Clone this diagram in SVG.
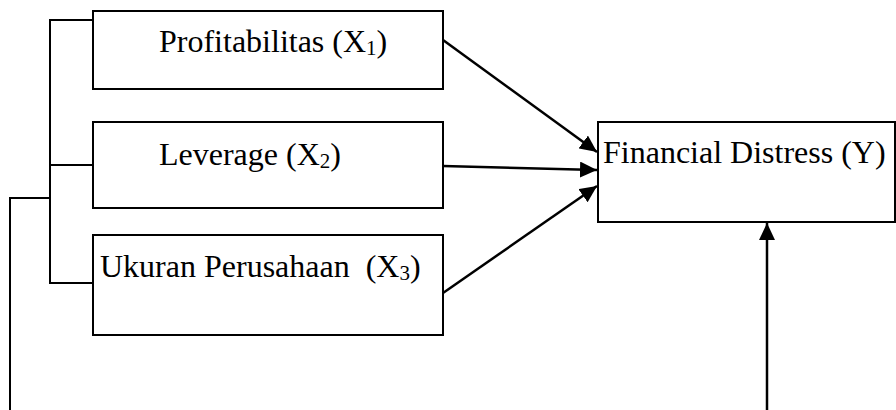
<svg xmlns="http://www.w3.org/2000/svg" width="896" height="410" viewBox="0 0 896 410">
<style>
.box{fill:#fff;stroke:#000;stroke-width:2}
.ln{fill:none;stroke:#000;stroke-width:2}
.ar{fill:none;stroke:#000;stroke-width:2.5}
.t{font-family:"Liberation Serif","Times New Roman",serif;font-size:32px;fill:#000}
.sub{font-size:21px}
</style>
<defs>
<marker id="ah" markerUnits="userSpaceOnUse" markerWidth="18" markerHeight="16" refX="17" refY="8" orient="auto">
<path d="M0,0 L17,8 L0,16 z" fill="#000"/>
</marker>
</defs>
<rect width="896" height="410" fill="#fff"/>
<g id="connectors">
<polyline class="ln" points="93,20 50,20 50,283 93,283"/>
<line class="ln" x1="50" y1="165" x2="93" y2="165"/>
<polyline class="ln" points="50,198 10,198 10,410"/>
<line class="ar" x1="443" y1="40" x2="597" y2="152" marker-end="url(#ah)"/>
<line class="ar" x1="443" y1="166" x2="597" y2="170" marker-end="url(#ah)"/>
<line class="ar" x1="443" y1="293" x2="597" y2="186" marker-end="url(#ah)"/>
<line class="ar" x1="767" y1="410" x2="767" y2="223" marker-end="url(#ah)"/>
</g>
<g id="x1">
<rect class="box" x="93" y="11" width="350" height="78"/>
<text class="t" x="159" y="52">Profitabilitas (X<tspan class="sub" dy="3">1</tspan><tspan dy="-3">)</tspan></text>
</g>
<g id="x2">
<rect class="box" x="93" y="122" width="350" height="86"/>
<text class="t" x="159" y="165">Leverage (X<tspan class="sub" dy="3">2</tspan><tspan dy="-3">)</tspan></text>
</g>
<g id="x3">
<rect class="box" x="93" y="235" width="350" height="100"/>
<text class="t" x="100" y="277" xml:space="preserve">Ukuran Perusahaan  (X<tspan class="sub" dy="3">3</tspan><tspan dy="-3">)</tspan></text>
</g>
<g id="y">
<rect class="box" x="598" y="122" width="297" height="100"/>
<text class="t" x="603" y="163">Financial Distress (Y)</text>
</g>
</svg>
